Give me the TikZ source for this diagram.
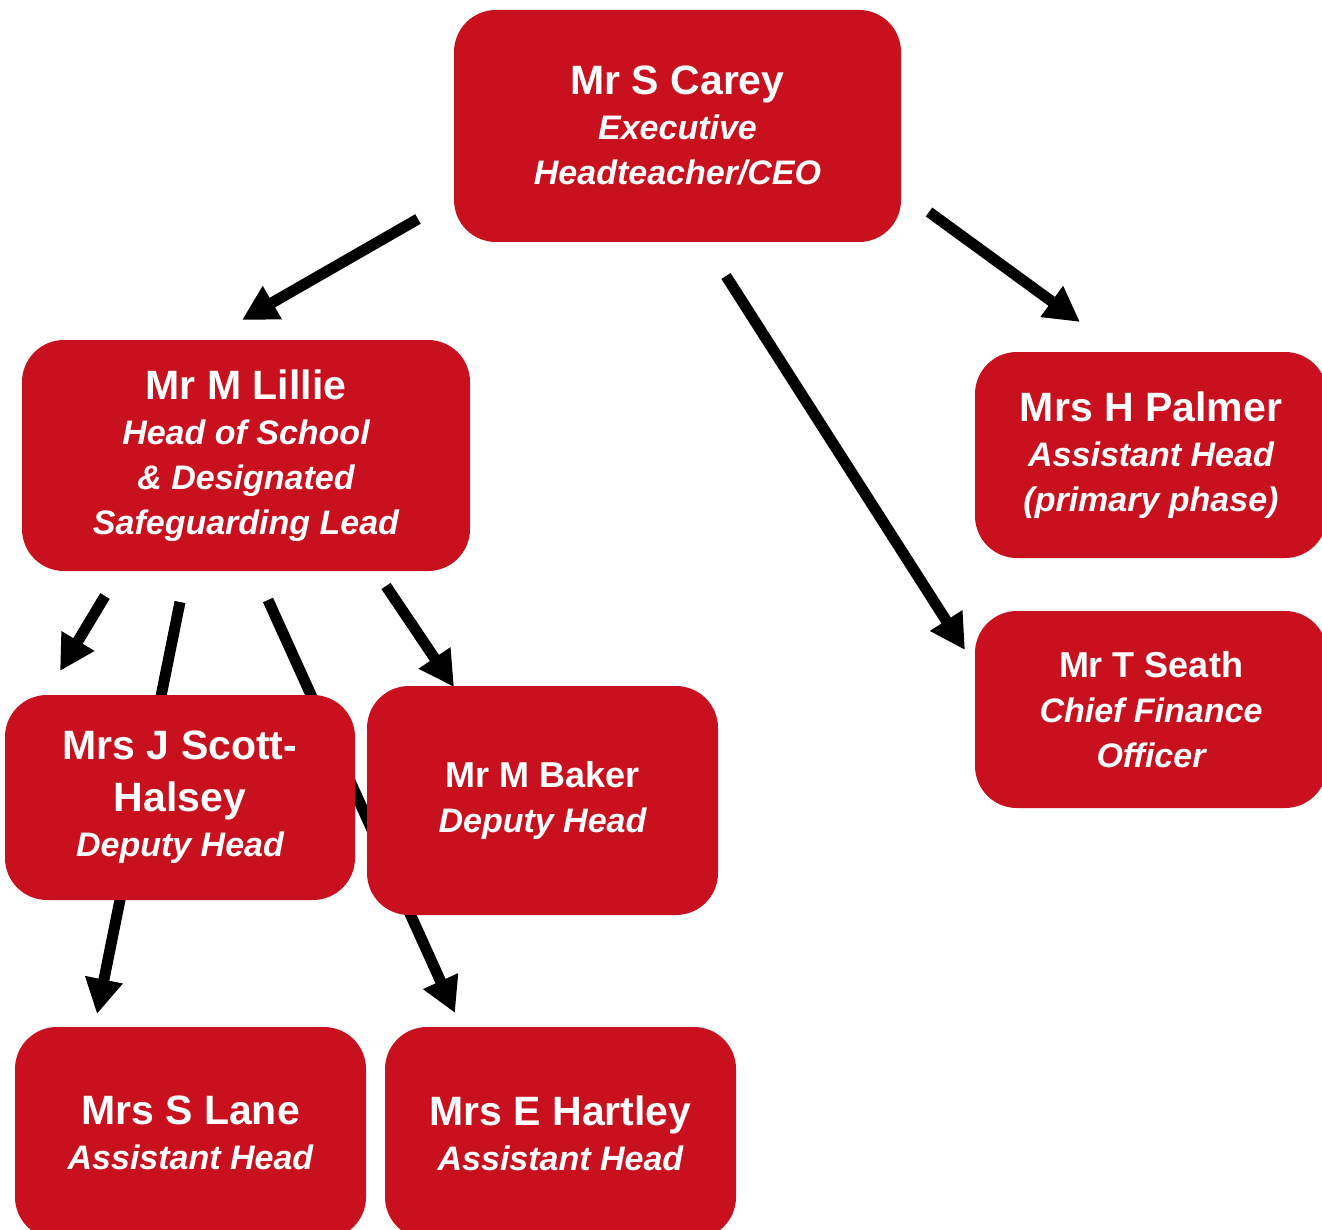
\documentclass[tikz,border=0pt]{standalone}
\usepackage{fontspec}
\setmainfont{Liberation Sans}
\usetikzlibrary{arrows.meta}
\definecolor{schoolred}{RGB}{200,16,30}
\newcommand{\nmfont}{\fontsize{20.5}{26}\selectfont\bfseries}
\newcommand{\smnmfont}{\fontsize{18}{23}\selectfont\bfseries}
\newcommand{\rlfont}{\fontsize{17}{22.5}\selectfont\bfseries\itshape}

\begin{document}
\begin{tikzpicture}[x=0.5pt, y=-0.5pt,
    post/.style = {fill=schoolred, rounded corners=21pt, text=white, align=center, inner sep=0pt, outer sep=0pt, font=\fontsize{17}{22.5}\selectfont},
    link/.style = {line width=5.5pt, -{Triangle[length=17.5pt, width=18pt]}}]
    \useasboundingbox (0,0) rectangle (1322,1230);
    % arrow ends
    \coordinate (cl1) at (418,219);
    \coordinate (cl2) at (242,320);
    \coordinate (cp1) at (929,212);
    \coordinate (cp2) at (1080,322);
    \coordinate (cs1) at (726,276);
    \coordinate (cs2) at (965,650);
    \coordinate (lj1) at (105,596);
    \coordinate (lj2) at (60,671);
    \coordinate (ll1) at (180,602);
    \coordinate (ll2) at (97,1014);
    \coordinate (lh1) at (268,600);
    \coordinate (lh2) at (455,1013);
    \coordinate (lb1) at (386,586);
    \coordinate (lb2) at (454,687);
    % arrows first, the boxes lie on top of them
    \draw[link] (cl1) -- (cl2);
    \draw[link] (cp1) -- (cp2);
    \draw[link] (cs1) -- (cs2);
    \draw[link] (lj1) -- (lj2);
    \draw[link] (ll1) -- (ll2);
    \draw[link] (lh1) -- (lh2);
    \draw[link] (lb1) -- (lb2);
    % boxes
    \node[post, minimum width=223.5pt, minimum height=116pt] (carey) at (677.5,126)
        {{\nmfont Mr S Carey}\\{\rlfont Executive}\\{\rlfont Headteacher/CEO}};
    \node[post, minimum width=224pt, minimum height=115.5pt] (lillie) at (246,455.5)
        {{\nmfont Mr M Lillie}\\{\rlfont Head of School}\\{\rlfont \& Designated}\\{\rlfont Safeguarding Lead}};
    \node[post, minimum width=176pt, minimum height=103pt] (palmer) at (1151,455)
        {{\nmfont Mrs H Palmer}\\{\rlfont Assistant Head}\\{\rlfont (primary phase)}};
    \node[post, minimum width=176pt, minimum height=98.5pt] (seath) at (1151,709.5)
        {{\smnmfont Mr T Seath}\\{\rlfont Chief Finance}\\{\rlfont Officer}};
    \node[post, minimum width=175pt, minimum height=102.5pt] (scott) at (180,797.5)
        {{\nmfont Mrs J Scott-}\\[3.5pt]{\nmfont Halsey}\\{\rlfont Deputy Head}};
    \node[post, minimum width=175.5pt, minimum height=114.5pt] (baker) at (542.5,800.5)
        {{\smnmfont Mr M Baker}\\{\rlfont Deputy Head}};
    \node[post, minimum width=175.5pt, minimum height=106pt] (lane) at (190.5,1133)
        {{\nmfont Mrs S Lane}\\{\rlfont Assistant Head}};
    \node[post, minimum width=175.5pt, minimum height=106pt] (hartley) at (560.5,1133)
        {{\nmfont Mrs E Hartley}\\{\rlfont Assistant Head}};
\end{tikzpicture}
\end{document}
